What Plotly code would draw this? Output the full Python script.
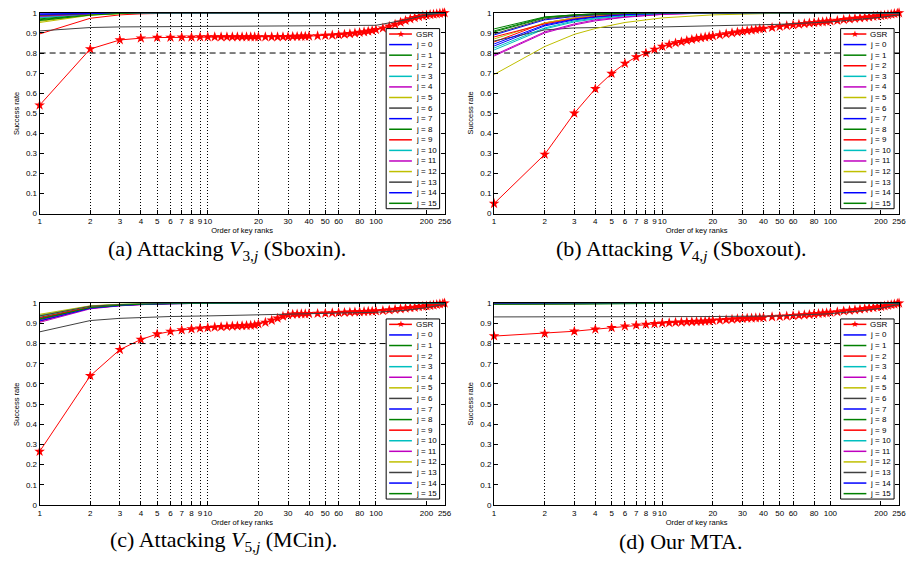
import math
import plotly.graph_objects as go

# ---------------- data ----------------
RANKS = [1, 2, 3, 4, 5, 6, 7, 8, 9, 10, 11, 12, 13, 14, 15, 16, 17, 18, 19, 20,
         22, 24, 26, 28, 30, 32, 34, 36, 38, 40,
         45, 50, 55, 60, 65, 70, 75, 80, 85, 90, 95, 100,
         110, 120, 130, 140, 150, 160, 170, 180, 190, 200, 210, 220, 230, 240, 250, 256]

GSR_A = [0.54, 0.82, 0.865, 0.874, 0.877, 0.878, 0.879, 0.879, 0.88, 0.88,
         0.88, 0.88, 0.88, 0.88, 0.88, 0.88, 0.88, 0.88, 0.88, 0.88,
         0.88, 0.88, 0.88, 0.881, 0.881, 0.882, 0.882, 0.883, 0.883, 0.884,
         0.885, 0.887, 0.889, 0.891, 0.893, 0.896, 0.899, 0.902, 0.905, 0.908, 0.912, 0.916,
         0.924, 0.933, 0.943, 0.953, 0.962, 0.970, 0.976, 0.981, 0.985, 0.988, 0.991, 0.993, 0.995, 0.997, 0.999, 1.0]

GSR_B = [0.05, 0.295, 0.50, 0.622, 0.698, 0.748, 0.780, 0.80, 0.818, 0.832,
         0.842, 0.85, 0.856, 0.862, 0.867, 0.872, 0.876, 0.879, 0.882, 0.885,
         0.89, 0.895, 0.90, 0.904, 0.908, 0.911, 0.914, 0.917, 0.92, 0.922,
         0.927, 0.932, 0.936, 0.94, 0.943, 0.946, 0.949, 0.951, 0.953, 0.955, 0.957, 0.959,
         0.962, 0.966, 0.969, 0.972, 0.975, 0.977, 0.979, 0.982, 0.984, 0.986, 0.988, 0.99, 0.993, 0.996, 0.998, 1.0]

GSR_C = [0.265, 0.64, 0.77, 0.82, 0.847, 0.86, 0.867, 0.872, 0.876, 0.879,
         0.881, 0.883, 0.885, 0.886, 0.887, 0.888, 0.889, 0.89, 0.892, 0.897,
         0.905, 0.915, 0.925, 0.935, 0.942, 0.945, 0.946, 0.947, 0.947, 0.948,
         0.949, 0.95, 0.952, 0.953, 0.954, 0.955, 0.956, 0.957, 0.958, 0.959, 0.96, 0.961,
         0.963, 0.966, 0.969, 0.972, 0.975, 0.977, 0.979, 0.982, 0.984, 0.986, 0.988, 0.99, 0.993, 0.996, 0.998, 1.0]

GSR_D = [0.837, 0.85, 0.861, 0.871, 0.879, 0.886, 0.891, 0.895, 0.898, 0.901,
         0.903, 0.905, 0.906, 0.907, 0.908, 0.909, 0.91, 0.911, 0.912, 0.914,
         0.916, 0.918, 0.92, 0.922, 0.924, 0.925, 0.926, 0.927, 0.928, 0.929,
         0.932, 0.934, 0.936, 0.938, 0.94, 0.942, 0.944, 0.946, 0.948, 0.95, 0.952, 0.954,
         0.957, 0.961, 0.964, 0.967, 0.97, 0.973, 0.976, 0.978, 0.981, 0.983, 0.986, 0.989, 0.992, 0.995, 0.998, 1.0]

J_RANKS = [1, 2, 3, 4, 6, 10, 20, 50, 100, 150, 200, 256]

J_LINES_A = [
    [0.990, 0.997, 1.0, 1.0, 1.0, 1.0, 1.0, 1.0, 1.0, 1.0, 1.0, 1.0],
    [0.966, 0.990, 0.997, 0.999, 1.0, 1.0, 1.0, 1.0, 1.0, 1.0, 1.0, 1.0],
    [0.895, 0.973, 0.990, 0.995, 0.998, 1.0, 1.0, 1.0, 1.0, 1.0, 1.0, 1.0],
    [0.975, 0.993, 0.998, 1.0, 1.0, 1.0, 1.0, 1.0, 1.0, 1.0, 1.0, 1.0],
    [0.980, 0.994, 0.998, 1.0, 1.0, 1.0, 1.0, 1.0, 1.0, 1.0, 1.0, 1.0],
    [0.952, 0.988, 0.996, 0.999, 1.0, 1.0, 1.0, 1.0, 1.0, 1.0, 1.0, 1.0],
    [0.910, 0.927, 0.930, 0.931, 0.932, 0.933, 0.934, 0.936, 0.938, 0.965, 0.990, 1.0],
    [0.995, 0.999, 1.0, 1.0, 1.0, 1.0, 1.0, 1.0, 1.0, 1.0, 1.0, 1.0],
    [0.970, 0.991, 0.998, 1.0, 1.0, 1.0, 1.0, 1.0, 1.0, 1.0, 1.0, 1.0],
    [0.985, 0.996, 1.0, 1.0, 1.0, 1.0, 1.0, 1.0, 1.0, 1.0, 1.0, 1.0],
    [0.978, 0.994, 0.999, 1.0, 1.0, 1.0, 1.0, 1.0, 1.0, 1.0, 1.0, 1.0],
    [0.983, 0.995, 1.0, 1.0, 1.0, 1.0, 1.0, 1.0, 1.0, 1.0, 1.0, 1.0],
    [0.958, 0.990, 0.997, 1.0, 1.0, 1.0, 1.0, 1.0, 1.0, 1.0, 1.0, 1.0],
    [0.987, 0.997, 1.0, 1.0, 1.0, 1.0, 1.0, 1.0, 1.0, 1.0, 1.0, 1.0],
    [0.993, 0.998, 1.0, 1.0, 1.0, 1.0, 1.0, 1.0, 1.0, 1.0, 1.0, 1.0],
    [0.962, 0.989, 0.997, 1.0, 1.0, 1.0, 1.0, 1.0, 1.0, 1.0, 1.0, 1.0],
]

J_LINES_B = [
    [0.835, 0.935, 0.965, 0.978, 0.990, 0.997, 1.0, 1.0, 1.0, 1.0, 1.0, 1.0],
    [0.920, 0.980, 0.990, 0.995, 0.998, 1.0, 1.0, 1.0, 1.0, 1.0, 1.0, 1.0],
    [0.855, 0.950, 0.975, 0.985, 0.993, 0.998, 1.0, 1.0, 1.0, 1.0, 1.0, 1.0],
    [0.815, 0.920, 0.955, 0.970, 0.985, 0.995, 1.0, 1.0, 1.0, 1.0, 1.0, 1.0],
    [0.790, 0.905, 0.945, 0.965, 0.980, 0.993, 1.0, 1.0, 1.0, 1.0, 1.0, 1.0],
    [0.870, 0.950, 0.975, 0.985, 0.993, 0.998, 1.0, 1.0, 1.0, 1.0, 1.0, 1.0],
    [0.860, 0.915, 0.925, 0.928, 0.929, 0.930, 0.935, 0.943, 0.955, 0.968, 0.978, 0.990],
    [0.890, 0.965, 0.982, 0.990, 0.996, 1.0, 1.0, 1.0, 1.0, 1.0, 1.0, 1.0],
    [0.905, 0.975, 0.988, 0.993, 0.997, 1.0, 1.0, 1.0, 1.0, 1.0, 1.0, 1.0],
    [0.880, 0.945, 0.970, 0.982, 0.992, 0.998, 1.0, 1.0, 1.0, 1.0, 1.0, 1.0],
    [0.825, 0.925, 0.960, 0.974, 0.987, 0.996, 1.0, 1.0, 1.0, 1.0, 1.0, 1.0],
    [0.785, 0.900, 0.940, 0.960, 0.978, 0.992, 1.0, 1.0, 1.0, 1.0, 1.0, 1.0],
    [0.693, 0.832, 0.893, 0.922, 0.952, 0.975, 0.990, 0.998, 1.0, 1.0, 1.0, 1.0],
    [0.895, 0.970, 0.985, 0.992, 0.996, 1.0, 1.0, 1.0, 1.0, 1.0, 1.0, 1.0],
    [0.845, 0.940, 0.968, 0.980, 0.991, 0.997, 1.0, 1.0, 1.0, 1.0, 1.0, 1.0],
    [0.910, 0.978, 0.990, 0.995, 0.998, 1.0, 1.0, 1.0, 1.0, 1.0, 1.0, 1.0],
]

J_LINES_C = [
    [0.925, 0.980, 0.990, 0.995, 0.998, 1.0, 1.0, 1.0, 1.0, 1.0, 1.0, 1.0],
    [0.930, 0.982, 0.992, 0.996, 0.999, 1.0, 1.0, 1.0, 1.0, 1.0, 1.0, 1.0],
    [0.910, 0.975, 0.988, 0.994, 0.998, 1.0, 1.0, 1.0, 1.0, 1.0, 1.0, 1.0],
    [0.935, 0.984, 0.993, 0.997, 1.0, 1.0, 1.0, 1.0, 1.0, 1.0, 1.0, 1.0],
    [0.905, 0.972, 0.987, 0.993, 0.997, 1.0, 1.0, 1.0, 1.0, 1.0, 1.0, 1.0],
    [0.945, 0.987, 0.995, 0.998, 1.0, 1.0, 1.0, 1.0, 1.0, 1.0, 1.0, 1.0],
    [0.858, 0.914, 0.925, 0.930, 0.934, 0.937, 0.942, 0.948, 0.955, 0.965, 0.978, 0.995],
    [0.918, 0.977, 0.989, 0.995, 0.998, 1.0, 1.0, 1.0, 1.0, 1.0, 1.0, 1.0],
    [0.922, 0.979, 0.990, 0.995, 0.998, 1.0, 1.0, 1.0, 1.0, 1.0, 1.0, 1.0],
    [0.928, 0.981, 0.991, 0.996, 0.999, 1.0, 1.0, 1.0, 1.0, 1.0, 1.0, 1.0],
    [0.940, 0.985, 0.994, 0.997, 1.0, 1.0, 1.0, 1.0, 1.0, 1.0, 1.0, 1.0],
    [0.915, 0.976, 0.989, 0.994, 0.998, 1.0, 1.0, 1.0, 1.0, 1.0, 1.0, 1.0],
    [0.940, 0.986, 0.994, 0.997, 1.0, 1.0, 1.0, 1.0, 1.0, 1.0, 1.0, 1.0],
    [0.937, 0.985, 0.993, 0.997, 1.0, 1.0, 1.0, 1.0, 1.0, 1.0, 1.0, 1.0],
    [0.912, 0.975, 0.988, 0.994, 0.998, 1.0, 1.0, 1.0, 1.0, 1.0, 1.0, 1.0],
    [0.920, 0.978, 0.990, 0.995, 0.998, 1.0, 1.0, 1.0, 1.0, 1.0, 1.0, 1.0],
]

J_LINES_D = [
    [0.998, 0.999, 1.0, 1.0, 1.0, 1.0, 1.0, 1.0, 1.0, 1.0, 1.0, 1.0],
    [0.995, 0.997, 0.998, 0.999, 1.0, 1.0, 1.0, 1.0, 1.0, 1.0, 1.0, 1.0],
    [0.997, 0.998, 0.999, 1.0, 1.0, 1.0, 1.0, 1.0, 1.0, 1.0, 1.0, 1.0],
    [0.996, 0.998, 0.999, 1.0, 1.0, 1.0, 1.0, 1.0, 1.0, 1.0, 1.0, 1.0],
    [0.997, 0.999, 1.0, 1.0, 1.0, 1.0, 1.0, 1.0, 1.0, 1.0, 1.0, 1.0],
    [0.996, 0.998, 0.999, 1.0, 1.0, 1.0, 1.0, 1.0, 1.0, 1.0, 1.0, 1.0],
    [0.932, 0.932, 0.932, 0.932, 0.933, 0.933, 0.934, 0.937, 0.948, 0.962, 0.975, 0.995],
    [0.998, 0.999, 1.0, 1.0, 1.0, 1.0, 1.0, 1.0, 1.0, 1.0, 1.0, 1.0],
    [0.995, 0.997, 0.998, 0.999, 1.0, 1.0, 1.0, 1.0, 1.0, 1.0, 1.0, 1.0],
    [0.997, 0.998, 0.999, 1.0, 1.0, 1.0, 1.0, 1.0, 1.0, 1.0, 1.0, 1.0],
    [0.996, 0.998, 0.999, 1.0, 1.0, 1.0, 1.0, 1.0, 1.0, 1.0, 1.0, 1.0],
    [0.997, 0.998, 0.999, 1.0, 1.0, 1.0, 1.0, 1.0, 1.0, 1.0, 1.0, 1.0],
    [0.996, 0.998, 0.999, 1.0, 1.0, 1.0, 1.0, 1.0, 1.0, 1.0, 1.0, 1.0],
    [0.997, 0.999, 1.0, 1.0, 1.0, 1.0, 1.0, 1.0, 1.0, 1.0, 1.0, 1.0],
    [0.998, 0.999, 1.0, 1.0, 1.0, 1.0, 1.0, 1.0, 1.0, 1.0, 1.0, 1.0],
    [0.995, 0.997, 0.998, 0.999, 1.0, 1.0, 1.0, 1.0, 1.0, 1.0, 1.0, 1.0],
]

THRESHOLD = 0.8
X_TICKS = [1, 2, 3, 4, 5, 6, 7, 8, 9, 10, 20, 30, 40, 50, 60, 80, 100, 200, 256]
X_TICK_TEXT = ["1", "2", "3", "4", "5", "6", "7", "8", "9", "10", "20", "30", "40",
               "50", "60", "80", "100", "200", "256"]
Y_TICKS = [0, 0.1, 0.2, 0.3, 0.4, 0.5, 0.6, 0.7, 0.8, 0.9, 1.0]
Y_TICK_TEXT = ["0", "0.1", "0.2", "0.3", "0.4", "0.5", "0.6", "0.7", "0.8", "0.9", "1"]
J_NAMES = ["j = %d" % k for k in range(16)]
GSR_NAME = "GSR"
CAPTIONS = [
    "(a) Attacking <i>V</i><sub>3,<i>j</i></sub> (Sboxin).",
    "(b) Attacking <i>V</i><sub>4,<i>j</i></sub> (Sboxout).",
    "(c) Attacking <i>V</i><sub>5,<i>j</i></sub> (MCin).",
    "(d) Our MTA.",
]
X_TITLE = "Order of key ranks"
Y_TITLE = "Success rate"

# ---------------- style ----------------
W, H = 909, 570
MATLAB_COLORS = ["#0000ff", "#008000", "#ff0000", "#00bfbf", "#bf00bf", "#bfbf00", "#404040"]
GSR_COLOR = "#ff0000"
FAMILY = "Liberation Sans, Arial, sans-serif"
TICK_FONT = dict(family=FAMILY, size=8, color="black")
TITLE_FONT = dict(family=FAMILY, size=7.5, color="black")
CAP_FONT = dict(family="Liberation Serif, Times New Roman, serif", size=22, color="black")

# panel boxes in pixels: (left, right, top, bottom)
PANELS = [(38, 447, 9, 213), (497, 906, 9, 213), (38, 447, 304, 509), (497, 906, 304, 509)]
CAPTION_POS = [(227, 250), (686, 250), (224, 546), (686, 546)]
YTITLE_X = [14, 473, 14, 473]


def px(x):
    return x / W


def py(y):
    return 1 - y / H


fig = go.Figure()
gsr_all = [GSR_A, GSR_B, GSR_C, GSR_D]
jl_all = [J_LINES_A, J_LINES_B, J_LINES_C, J_LINES_D]
shapes = []
annotations = []
layout = {}

for i, (l, r, t, b) in enumerate(PANELS):
    n = "" if i == 0 else str(i + 1)
    xa, ya = "x" + n, "y" + n
    fig.add_trace(go.Scatter(
        x=RANKS, y=gsr_all[i], mode="lines+markers", name=GSR_NAME,
        line=dict(color=GSR_COLOR, width=1),
        marker=dict(symbol="star", size=8, color=GSR_COLOR, line=dict(width=0)),
        cliponaxis=False, showlegend=False, xaxis=xa, yaxis=ya))
    for k, vals in enumerate(jl_all[i]):
        fig.add_trace(go.Scatter(
            x=J_RANKS, y=vals, mode="lines", name=J_NAMES[k],
            line=dict(color=MATLAB_COLORS[k % 7], width=1),
            showlegend=False, xaxis=xa, yaxis=ya))

    layout["xaxis" + n] = dict(
        domain=[px(l), px(r)], anchor=ya, type="log",
        range=[0, math.log10(256)], tickmode="array", tickvals=X_TICKS, ticktext=X_TICK_TEXT,
        ticks="inside", ticklen=4, tickcolor="black", showline=True, linecolor="black",
        linewidth=1, mirror="ticks", showgrid=True, gridcolor="black", griddash="1px,2px",
        gridwidth=1, zeroline=False, tickfont=TICK_FONT, tickangle=0,
        ticklabeloverflow="allow",
        title=dict(text=X_TITLE, font=TITLE_FONT, standoff=0))
    layout["yaxis" + n] = dict(
        domain=[py(b), py(t)], anchor=xa, range=[0, 1], tickmode="array",
        tickvals=Y_TICKS, ticktext=Y_TICK_TEXT, ticks="inside", ticklen=4,
        tickcolor="black", showline=True, linecolor="black", linewidth=1,
        mirror="ticks", showgrid=False, zeroline=False, tickfont=TICK_FONT)

    # y axis title
    annotations.append(dict(xref="paper", yref="paper", x=px(YTITLE_X[i]),
                            y=py((t + b) / 2), xanchor="center", yanchor="middle",
                            textangle=-90, showarrow=False, text=Y_TITLE, font=TITLE_FONT))

    # threshold line
    shapes.append(dict(type="line", xref=xa + " domain", yref=ya, x0=0, x1=1,
                       y0=THRESHOLD, y1=THRESHOLD, layer="above",
                       line=dict(color="black", width=1, dash="6px,4px")))

    # legend box
    lw, lh = 54, 183
    lr = r - 5
    ll = lr - lw
    lt = t + 16
    lb = lt + lh
    shapes.append(dict(type="rect", xref="paper", yref="paper", x0=px(ll), x1=px(lr),
                       y0=py(lb), y1=py(lt), fillcolor="white", layer="above",
                       line=dict(color="black", width=1)))
    names = [GSR_NAME] + J_NAMES
    cols = [GSR_COLOR] + [MATLAB_COLORS[k % 7] for k in range(16)]
    step = (lh - 11) / 16.0
    for e, (nm, c) in enumerate(zip(names, cols)):
        yc = lt + 5.5 + e * step
        shapes.append(dict(type="line", xref="paper", yref="paper", x0=px(ll + 3),
                           x1=px(ll + 26), y0=py(yc), y1=py(yc), layer="above",
                           line=dict(color=c, width=1.5)))
        annotations.append(dict(xref="paper", yref="paper", x=px(ll + 28), y=py(yc),
                                xanchor="left", yanchor="middle", showarrow=False,
                                text=nm, font=dict(family=FAMILY, size=8, color="black")))
        if e == 0:
            annotations.append(dict(xref="paper", yref="paper", x=px(ll + 14.5), y=py(yc),
                                    xanchor="center", yanchor="middle", showarrow=False,
                                    text="\u2605", font=dict(family="DejaVu Sans", size=9,
                                                             color=GSR_COLOR)))

    cx, cy = CAPTION_POS[i]
    annotations.append(dict(xref="paper", yref="paper", x=px(cx), y=py(cy),
                            xanchor="center", yanchor="middle", showarrow=False,
                            text=CAPTIONS[i], font=CAP_FONT))

fig.update_layout(
    width=W, height=H, autosize=False,
    margin=dict(l=0, r=0, t=0, b=0),
    paper_bgcolor="white", plot_bgcolor="white",
    showlegend=False, shapes=shapes, annotations=annotations,
    **layout)

fig.write_html("out.html", config={"displayModeBar": False},
               post_script="document.body.style.margin='0';document.body.style.overflow='hidden';")
